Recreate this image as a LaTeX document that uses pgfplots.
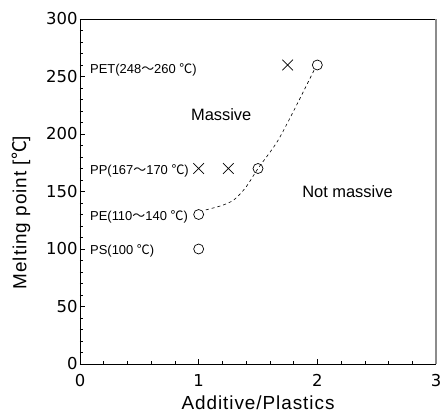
\documentclass[border=0pt]{standalone}
\usepackage{pgfplots}
\pgfplotsset{compat=1.18}
\usepackage{fontspec}
\setmainfont{Liberation Sans}
\newfontfamily\cjk{Noto Sans CJK JP}
\newfontfamily\tickfont{DejaVu Sans}
\newfontfamily\widefont[LetterSpace=5]{Liberation Sans}
\begin{document}
\begin{tikzpicture}
\begin{axis}[
  scale only axis,
  width=356bp, height=345bp,
  xmin=0, xmax=3, ymin=0, ymax=300,
  xtick={0,1,2,3}, ytick={0,50,100,150,200,250,300},
  minor x tick num=4, minor y tick num=4,
  tick align=inside,
  major tick length=5bp, minor tick length=3bp,
  tick style={black, line width=0.6pt},
  axis line style={line width=0.7pt},
  axis x line*=bottom, axis y line*=left,
  /pgf/number format/assume math mode=true,
  ticklabel style={font=\tickfont\fontsize{16.5}{18}\selectfont},
  xticklabel style={yshift=-7bp},
  yticklabel style={xshift=1bp},
  clip=false,
]
\draw[black, line width=0.7pt] (rel axis cs:0,1) -- (rel axis cs:1,1);
\draw[gray!90, line width=2pt] (rel axis cs:1,0) -- (rel axis cs:1,1);
\addplot[black, dashed, dash pattern=on 3bp off 3bp, smooth, line width=0.6pt] coordinates {
 (1.06,134) (1.2,138) (1.3,143) (1.4,154) (1.5,170) (1.66,193) (1.8,220) (1.98,257)};
\addplot[only marks, mark=o, mark size=5bp, black, line width=0.7pt] coordinates {
 (1,100) (1,130) (1.5,170) (2,260)};
\addplot[only marks, mark=x, mark size=7.5bp, black, line width=0.7pt] coordinates {
 (1,170) (1.25,170) (1.75,260)};
\node[anchor=west, inner sep=0pt, font=\fontsize{13}{15}\selectfont] at (axis cs:0.084,256) {PET(248{\cjk ～}260 {\cjk ℃})};
\node[anchor=west, inner sep=0pt, font=\fontsize{13}{15}\selectfont] at (axis cs:0.084,168) {PP(167{\cjk ～}170 {\cjk ℃})};
\node[anchor=west, inner sep=0pt, font=\fontsize{13}{15}\selectfont] at (axis cs:0.084,128) {PE(110{\cjk ～}140 {\cjk ℃})};
\node[anchor=west, inner sep=0pt, font=\fontsize{13}{15}\selectfont] at (axis cs:0.084,98) {PS(100 {\cjk ℃})};
\node[font=\fontsize{16.5}{18}\selectfont] at (axis cs:1.19,217) {Massive};
\node[font=\fontsize{16.5}{18}\selectfont] at (axis cs:2.254,149.6) {Not massive};
\node[anchor=base, font=\widefont\fontsize{19}{21}\selectfont] at ([yshift=-45.5bp]rel axis cs:0.5,0) {Additive/Plastics};
\node[anchor=base, rotate=90, font=\widefont\fontsize{19}{21}\selectfont] at ([xshift=-53.5bp, yshift=-21bp]rel axis cs:0,0.5) {Melting point [{\cjk ℃}]};
\end{axis}
\pgfresetboundingbox
\path ([xshift=-80bp, yshift=-50bp]current axis.south west) rectangle ([xshift=5bp, yshift=19bp]current axis.north east);
\end{tikzpicture}
\end{document}
